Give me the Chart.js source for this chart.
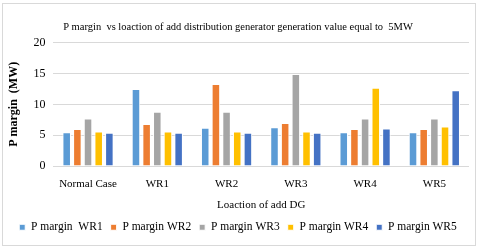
<!DOCTYPE html>
<html>
<head>
<meta charset="utf-8">
<script src="https://cdn.jsdelivr.net/npm/chart.js@4"></script>
<style>
    body { margin: 0; background: #fff; }
    #box { position: absolute; left: 2px; top: 3px; width: 474px; height: 243px; border: 1px solid #d9d9d9; box-sizing: border-box; }
    #wrap { position: absolute; left: 0; top: 0; width: 472px; height: 241px; }
</style>
</head>
<body>
<div id="box"><div id="wrap"><canvas id="barChart"></canvas></div></div>
<script>
const categories = ["Normal Case", "WR1", "WR2", "WR3", "WR4", "WR5"];
const seriesNames = ["P margin  WR1", "P margin WR2", "P margin WR3", "P margin WR4", "P margin WR5"];
const marginWR1 = [5.5, 12.5, 6.2, 6.3, 5.5, 5.5];
const marginWR2 = [6.0, 6.8, 13.3, 7.0, 6.0, 6.0];
const marginWR3 = [7.7, 8.8, 8.8, 14.9, 7.7, 7.7];
const marginWR4 = [5.6, 5.6, 5.6, 5.6, 12.7, 6.4];
const marginWR5 = [5.4, 5.4, 5.4, 5.4, 6.1, 12.3];
const yTicks = [0, 5, 10, 15, 20];

const colors = ["#5B9BD5", "#ED7D31", "#A5A5A5", "#FFC000", "#4472C4"];
const allSeries = [marginWR1, marginWR2, marginWR3, marginWR4, marginWR5];
const serif = "'Liberation Serif', 'Times New Roman', serif";

document.addEventListener("DOMContentLoaded", function () {
    const ctx = document.getElementById("barChart").getContext("2d");

    new Chart(ctx, {
        type: "bar",
        data: {
            labels: categories,
            datasets: allSeries.map((values, i) => ({
                label: seriesNames[i],
                data: values,
                backgroundColor: colors[i],
                borderColor: "#ffffff",
                borderWidth: 1,
                categoryPercentage: 0.77,
                barPercentage: 0.8,
            })),
        },
        options: {
            responsive: true,
            maintainAspectRatio: false,
            animation: false,
            layout: { padding: { left: 4, right: 6, top: 0, bottom: 2 } },
            plugins: {
                title: {
                    display: true,
                    text: "P margin  vs loaction of add distribution generator generation value equal to  5MW",
                    color: "#000",
                    font: { family: serif, size: 10.5, weight: "normal" },
                    padding: { top: 17, bottom: 9 },
                },
                legend: {
                    position: "bottom",
                    labels: {
                        color: "#000",
                        font: { family: serif, size: 11.5 },
                        boxWidth: 6,
                        boxHeight: 6,
                        padding: 8,
                    },
                },
                tooltip: { enabled: false },
            },
            scales: {
                x: {
                    grid: { display: false },
                    border: { display: false },
                    ticks: { color: "#000", font: { family: serif, size: 11 }, padding: 3, maxRotation: 0, autoSkip: false },
                    title: {
                        display: true,
                        text: "Loaction of add DG",
                        color: "#000",
                        font: { family: serif, size: 11 },
                        padding: { top: 5, bottom: 2 },
                    },
                },
                y: {
                    min: 0,
                    max: 20,
                    afterBuildTicks: (axis) => { axis.ticks = yTicks.map((v) => ({ value: v })); },
                    grid: { color: "#d9d9d9", drawTicks: false },
                    border: { display: false },
                    ticks: { color: "#000", font: { family: serif, size: 12 }, padding: 8 },
                    title: {
                        display: true,
                        text: "P margin  (MW)",
                        color: "#000",
                        font: { family: serif, size: 12, weight: "bold" },
                        padding: { top: 0, bottom: 4 },
                    },
                },
            },
        },
    });
});
</script>
</body>
</html>
